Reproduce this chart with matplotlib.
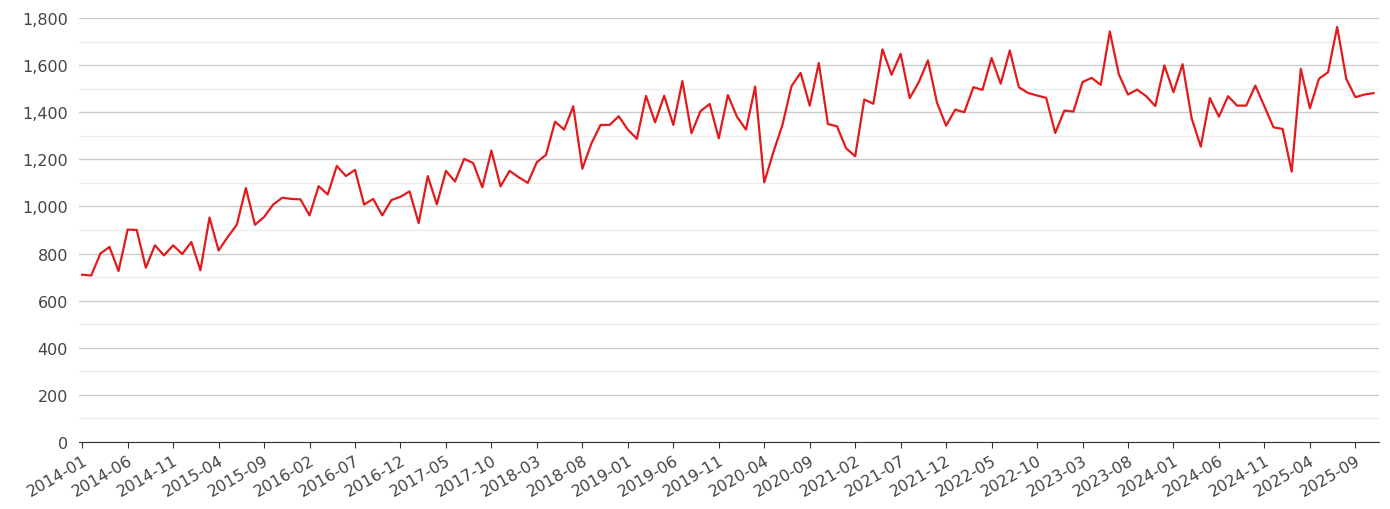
import matplotlib
matplotlib.use("Agg")
import matplotlib.pyplot as plt
import pandas as pd

START = "2014-01"
values = [
    710, 707, 800, 828, 726, 902, 900, 740, 835, 792, 835, 798,
    849, 729, 953, 813, 870, 922, 1078, 922, 955, 1008, 1037, 1032,
    1030, 962, 1086, 1051, 1172, 1129, 1155, 1008, 1032, 962, 1027, 1041,
    1064, 929, 1129, 1009, 1151, 1106, 1202, 1184, 1081, 1237, 1085, 1151,
    1124, 1100, 1188, 1219, 1360, 1326, 1425, 1160, 1268, 1346, 1346, 1383,
    1326, 1287, 1469, 1357, 1470, 1346, 1532, 1311, 1405, 1435, 1289, 1473,
    1381, 1326, 1509, 1102, 1230, 1346, 1511, 1567, 1428, 1609, 1350, 1340,
    1247, 1213, 1454, 1436, 1667, 1559, 1648, 1460, 1528, 1620, 1440, 1343,
    1411, 1400, 1506, 1495, 1630, 1521, 1662, 1506, 1482, 1471, 1461, 1312,
    1407, 1403, 1528, 1546, 1516, 1743, 1560, 1475, 1496, 1468, 1426, 1599,
    1485, 1604, 1374, 1254, 1460, 1381, 1468, 1428, 1428, 1513, 1424, 1336,
    1329, 1148, 1584, 1417, 1542, 1570, 1762, 1542, 1464, 1475, 1481,
]
months = pd.period_range(START, periods=len(values), freq="M").strftime("%Y-%m").tolist()
tick_idx = list(range(0, len(values), 5))
tick_labels = [months[i] for i in tick_idx]

fig = plt.figure(figsize=(13.9, 5.1), dpi=100)
ax = fig.add_axes((79 / 1390, 1 - 443 / 510, 1300 / 1390, 424 / 510))

ax.plot(range(len(values)), values, color="#e31a1c", linewidth=1.6)

ax.set_ylim(0, 1800)
ax.set_xlim(-0.35, len(values) - 1 + 0.6)
ax.set_yticks(range(0, 1801, 200))
ax.set_yticklabels([f"{v:,}" for v in range(0, 1801, 200)])
ax.set_yticks(range(100, 1800, 200), minor=True)
ax.grid(axis="y", which="major", color="#cccccc", linewidth=1)
ax.grid(axis="y", which="minor", color="#eeeeee", linewidth=1)
ax.set_axisbelow(True)

ax.set_xticks(tick_idx)
ax.set_xticklabels(tick_labels, rotation=30, ha="right", rotation_mode="anchor")

for s in ("left", "right", "top"):
    ax.spines[s].set_visible(False)
ax.spines["bottom"].set_color("#333333")
ax.tick_params(axis="y", length=0, labelsize=11.5, labelcolor="#444444", pad=8)
ax.tick_params(axis="x", length=4, color="#333333", labelsize=11.5, labelcolor="#444444")
ax.tick_params(which="minor", length=0)

fig.savefig("out.png", dpi=100)
